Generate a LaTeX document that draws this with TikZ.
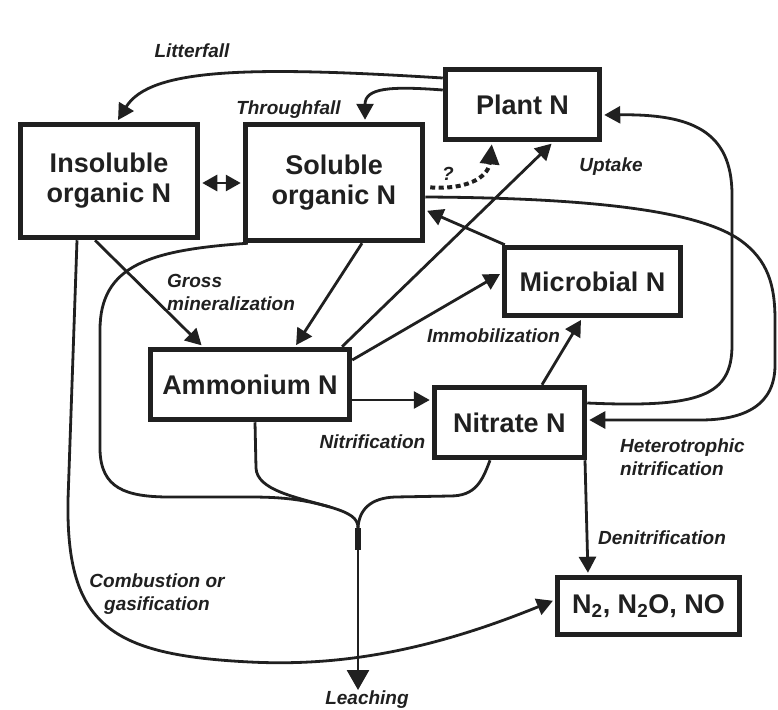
\documentclass[tikz,border=0pt]{standalone}
\usepackage{fontspec}
\setmainfont{Liberation Sans}
\usetikzlibrary{arrows.meta}
\definecolor{ink}{RGB}{32,32,32}
\begin{document}
\begin{tikzpicture}[x=1pt,y=-1pt,
  box/.style={draw=ink, line width=5.5pt, inner sep=0pt, fill=white, text=ink,
    align=center, font=\fontsize{27}{30}\selectfont\bfseries},
  lbl/.style={inner sep=0pt, text=ink, font=\fontsize{19}{23}\selectfont\bfseries\itshape},
  wire/.style={draw=ink, line width=2.8pt},
  conn/.style={wire, -{Triangle[length=16pt,width=17pt]}, shorten >=2pt},
  conntwo/.style={wire, {Triangle[length=15pt,width=16pt]}-{Triangle[length=15pt,width=16pt]}, shorten >=2pt, shorten <=2pt},
  qarrow/.style={draw=ink, line width=4pt, dash pattern=on 5pt off 3.5pt, -{Triangle[length=20pt,width=19pt]}, shorten >=2pt, shorten <=5pt},
  bigarrow/.style={wire, -{Triangle[length=20pt,width=22pt]}}
]
\useasboundingbox (0,0) rectangle (778,709);
\fill[white] (0,0) rectangle (778,709);

% boxes
\node[box, minimum width=177pt, minimum height=113pt] (ins) at (109,181) {Insoluble\\organic N};
\node[box, minimum width=177pt, minimum height=116pt] (sol) at (334,182.5) {Soluble\\organic N};
\node[box, minimum width=154pt, minimum height=70pt] (plant) at (522.5,104.5) {Plant N};
\node[box, minimum width=176pt, minimum height=68pt] (mic) at (592.5,281.5) {Microbial N};
\node[box, minimum width=199pt, minimum height=70pt] (amm) at (250,384.5) {Ammonium N};
\node[box, minimum width=150pt, minimum height=70pt] (nit) at (509.5,422.5) {Nitrate N};
\node[box, minimum width=182pt, minimum height=57pt] (gas) at (648.5,606) {N\textsubscript{2}, N\textsubscript{2}O, NO};

% coordinates for the leaching trunk
\coordinate (merge) at (358,528);
\coordinate (leachend) at (358,690);

% connectors
\draw[conn] ([yshift=26.5pt]plant.west) .. controls (250,66) and (150,68) .. ([xshift=8pt]ins.north);
\draw[conn] ([yshift=14.5pt]plant.west) .. controls (390,86) and (365,88) .. ([xshift=31pt]sol.north);
\draw[conntwo] ([yshift=-2pt]ins.east) -- ([yshift=-0.5pt]sol.west);
\draw[qarrow] ([yshift=-4.5pt]sol.east) .. controls (465,190) and (488,178) .. ([xshift=-30.5pt]plant.south);
\draw[conn] ([xshift=92pt]amm.north) -- ([xshift=30.5pt]plant.south);
\draw[conn] ([yshift=24.5pt]amm.east) -- ([yshift=8.5pt]mic.west);
\draw[conn] ([xshift=3pt]mic.north west) -- ([yshift=-27.5pt]sol.east);
\draw[conn] ([xshift=28pt]sol.south) -- ([xshift=45pt]amm.north);
\draw[conn] ([xshift=-14pt]ins.south) -- ([xshift=-47pt]amm.north);
\draw[conn] ([yshift=-15.5pt]amm.east) -- ([yshift=22.5pt]nit.west);
\draw[conn] ([xshift=32.5pt]nit.north) -- ([xshift=-10.5pt]mic.south);
\draw[conn] ([yshift=19.5pt]nit.east) .. controls (700,408) and (732,396) .. (732,345)
  -- (732,195) .. controls (732,130) and (690,114) .. ([yshift=-10.5pt]plant.east);
\draw[conn] ([yshift=-14.5pt]sol.east) .. controls (600,198) and (700,212) .. (740,240)
  .. controls (768,260) and (775,285) .. (775,320) -- (775,365)
  .. controls (775,405) and (745,420) .. (700,420) -- ([yshift=2.5pt]nit.east);
\draw[conn] ([xshift=75.5pt]nit.south) -- ([xshift=-60.5pt]gas.north);

% leaching system
\draw[wire] ([xshift=5pt]amm.south) -- (256,468) .. controls (257,490) and (295,497) .. (330,507)
  .. controls (350,513) and (358,518) .. (merge);
\draw[wire] ([xshift=-19.5pt]nit.south) .. controls (482,482) and (475,496) .. (450,496)
  -- (395,497) .. controls (370,498) and (359,510) .. (merge);
\draw[wire] ([xshift=5pt]sol.south west) .. controls (150,250) and (100,265) .. (100,330)
  -- (100,450) .. controls (101,488) and (125,497) .. (170,497) -- (250,497)
  .. controls (285,497) and (305,500) .. (330,507);
\draw[bigarrow] (merge) -- (leachend);
\draw[draw=ink, line width=5.5pt] (merge) -- ++(0,22);

% combustion
\draw[conn] ([xshift=-32pt]ins.south) -- (68,500) .. controls (66,625) and (110,655) .. (250,662)
  .. controls (330,666) and (420,655) .. ([yshift=6pt]gas.west);

% labels
\node[lbl, anchor=base] (litter) at (192,58) {Litterfall};
\node[lbl, anchor=base] (through) at (288.5,114) {Throughfall};
\node[lbl, anchor=base] (qmark) at (448,180) {?};
\node[lbl, anchor=base] (uptake) at (611,171) {Uptake};
\node[lbl, anchor=west, align=left] (gross) at (167,292) {Gross\\mineralization};
\node[lbl, anchor=base] (immob) at (493.5,342) {Immobilization};
\node[lbl, anchor=base] (nitrif) at (372.5,448) {Nitrification};
\node[lbl, anchor=west, align=left] (hetero) at (620,457) {Heterotrophic\\nitrification};
\node[lbl, anchor=base] (denit) at (662,544) {Denitrification};
\node[lbl, align=center] (comb) at (157,594) {Combustion or\\gasification};
\node[lbl, anchor=base] (leach) at (367,704) {Leaching};
\end{tikzpicture}
\end{document}
